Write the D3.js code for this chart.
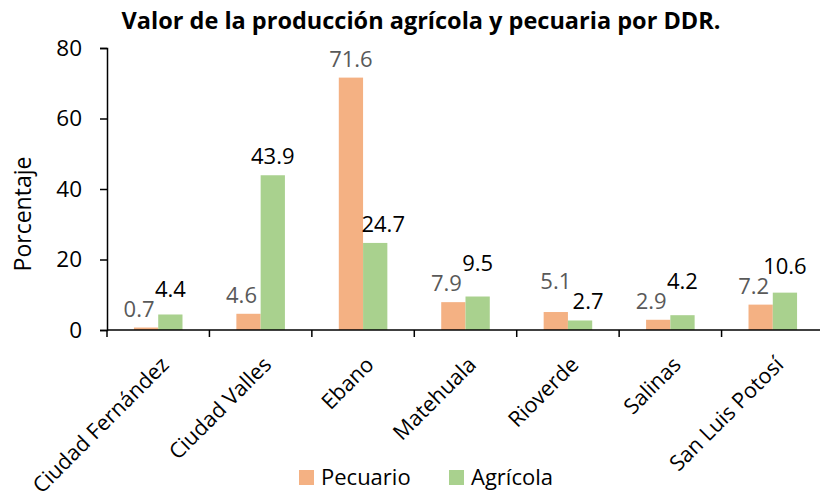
<!DOCTYPE html>
<html><head><meta charset="utf-8">
<script src="https://cdn.jsdelivr.net/npm/d3@7"></script>
<style>body{margin:0;background:#fff}svg{display:block;font-family:"Open Sans",sans-serif}</style>
</head><body><svg id="c" width="820" height="501"></svg>
<script>
const categories = ["Ciudad Fernández","Ciudad Valles","Ebano","Matehuala","Rioverde","Salinas","San Luis Potosí"];
const pecuario = [0.7,4.6,71.6,7.9,5.1,2.9,7.2];
const agricola = [4.4,43.9,24.7,9.5,2.7,4.2,10.6];
const seriesNames = ["Pecuario","Agrícola"];
const yTicks = [0,20,40,60,80];
const title = "Valor de la producción agrícola y pecuaria por DDR.";
const yTitle = "Porcentaje";

const colors = ["#F4B183","#A9D18E"];
const labelColors = ["#595959","#000000"];
const svg = d3.select("#c");
const x = d3.scaleBand().domain(categories).range([107,824]).paddingInner(0.526).paddingOuter(0.263);
const x1 = d3.scaleBand().domain(seriesNames).range([0,x.bandwidth()]);
const y = d3.scaleLinear().domain([0,80]).range([330,48]);

svg.append("text").attr("x",421).attr("y",29).attr("text-anchor","middle")
  .attr("font-weight","bold").attr("font-size",23.5).text(title);

svg.append("text").attr("transform","translate(31,214) rotate(-90)").attr("text-anchor","middle")
  .attr("font-size",23).text(yTitle);

const yAx = svg.append("g").attr("transform","translate(107,0)")
  .call(d3.axisLeft(y).tickValues(yTicks).tickSize(7).tickPadding(18));
yAx.selectAll("text").attr("font-size",22.5).attr("font-family","Open Sans").attr("fill","#000");
yAx.selectAll("line,path").attr("stroke","#000").attr("stroke-width",1.5);

// bars
const data = [pecuario, agricola];
data.forEach((vals,si)=>{
  svg.append("g").selectAll("rect").data(vals).join("rect")
    .attr("x",(d,i)=>x(categories[i])+x1(seriesNames[si]))
    .attr("width",x1.bandwidth())
    .attr("y",d=>y(d)).attr("height",d=>y(0)-y(d))
    .attr("fill",colors[si]);
});

// label placement: lower label sits just above its bar, higher label lifted to clear it;
// a label sitting beside the neighbouring bar is nudged away from it
const gap = 11, minSep = 20, near = 12, push = [-7, 8];
const labelPos = categories.map((c,i)=>{
  const v = [pecuario[i], agricola[i]];
  const lo = v[0] <= v[1] ? 0 : 1, hi = 1-lo;
  const ly = [];
  ly[lo] = y(v[lo]) - gap;
  ly[hi] = Math.min(y(v[hi]) - gap, ly[lo] - minSep);
  return [0,1].map(s=>{
    const other = y(v[1-s]);
    const dx = ly[s] > other - near ? push[s] : 0;
    return {y: ly[s], dx};
  });
});
data.forEach((vals,si)=>{
  svg.append("g").selectAll("text").data(vals).join("text")
    .attr("x",(d,i)=>x(categories[i])+x1(seriesNames[si])+x1.bandwidth()/2+labelPos[i][si].dx)
    .attr("y",(d,i)=>labelPos[i][si].y).attr("text-anchor","middle")
    .attr("font-size",22).attr("fill",labelColors[si]).text(d=>d.toFixed(1));
});

const step = x.step();
const xAx = svg.append("g").attr("transform","translate(0,330)");
xAx.append("line").attr("x1",107).attr("x2",820).attr("stroke","#000").attr("stroke-width",1.5);
xAx.selectAll("line.t").data(d3.range(categories.length+1)).join("line").attr("class","t")
  .attr("x1",i=>107+i*step).attr("x2",i=>107+i*step).attr("y1",0).attr("y2",7)
  .attr("stroke","#000").attr("stroke-width",1.5);
xAx.selectAll("text").data(categories).join("text")
  .attr("transform",d=>`translate(${x(d)+x.bandwidth()/2+12},${36}) rotate(-45)`)
  .attr("text-anchor","end").attr("font-size",21.5).text(d=>d);

const leg = svg.append("g");
const lx = [299,449];
seriesNames.forEach((s,i)=>{
  leg.append("rect").attr("x",lx[i]).attr("y",470).attr("width",15).attr("height",15).attr("fill",colors[i]);
  leg.append("text").attr("x",lx[i]+22).attr("y",485).attr("font-size",22).text(s);
});
</script></body></html>
